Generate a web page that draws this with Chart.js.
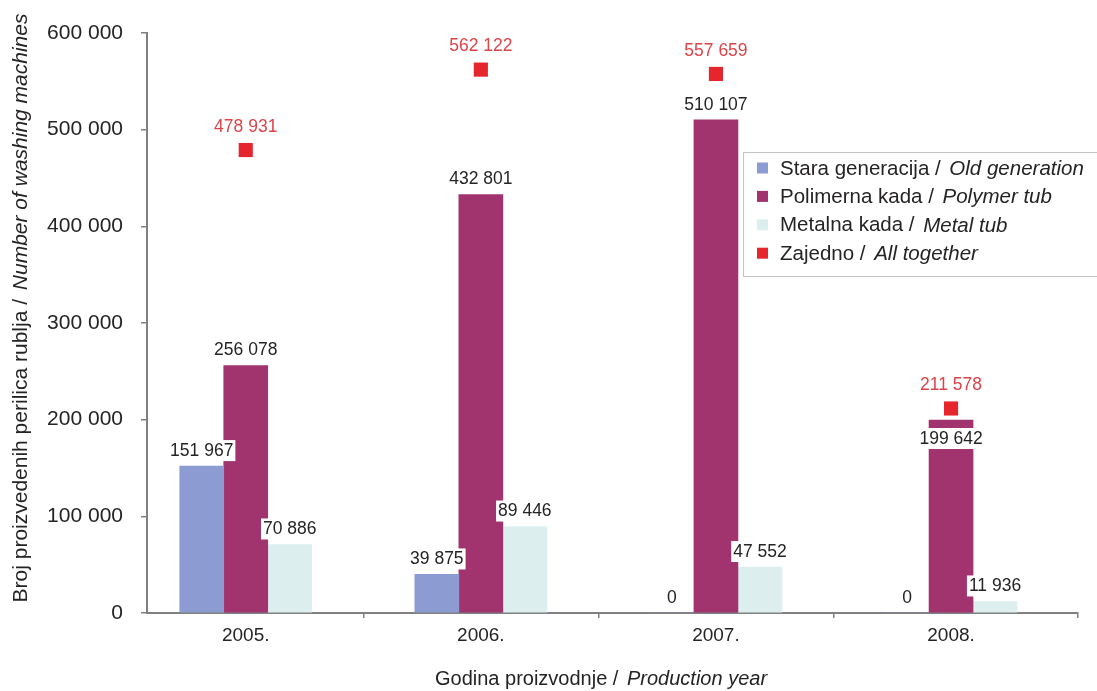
<!DOCTYPE html>
<html>
<head>
<meta charset="utf-8">
<script src="https://cdn.jsdelivr.net/npm/chart.js@4.4.0/dist/chart.umd.min.js"></script>
<style>
  html, body { margin: 0; padding: 0; background: #fff; }
  #wrap { width: 1097px; height: 691px; }
</style>
</head>
<body>
<div id="wrap"><canvas id="c" width="1097" height="691"></canvas></div>
<script>
// Production of washing machines by tub type, 2005-2008
const categories = ['2005.', '2006.', '2007.', '2008.'];
const oldGeneration = [151967, 39875, 0, 0];
const polymerTub = [256078, 432801, 510107, 199642];
const metalTub = [70886, 89446, 47552, 11936];
const allTogether = [478931, 562122, 557659, 211578];
const yTicks = [0, 100000, 200000, 300000, 400000, 500000, 600000];

const seriesNames = [
  ['Stara generacija', 'Old generation'],
  ['Polimerna kada', 'Polymer tub'],
  ['Metalna kada', 'Metal tub'],
  ['Zajedno', 'All together']
];
const xTitle = ['Godina proizvodnje', 'Production year'];
const yTitle = ['Broj proizvedenih perilica rublja', 'Number of washing machines'];

const FONT = '"Liberation Sans", Arial, sans-serif';
const TEXT = '#262324';
const AXIS = '#808080';
const COLORS = ['#8D9BD3', '#A1336E', '#DCEEEE', '#E5262D'];

const fmt = v => String(v).replace(/\B(?=(\d{3})+(?!\d))/g, ' ');
const toPoints = arr => arr.map((v, i) => ({ x: i, y: v }));

// draws "regular / italic" text pairs
function drawPair(ctx, parts, x, y, size, align) {
  const reg = size + 'px ' + FONT;
  const ital = 'italic ' + size + 'px ' + FONT;
  const a = parts[0] + ' / ';
  const gap = 3;
  ctx.font = reg;
  const wa = ctx.measureText(a).width + gap;
  ctx.font = ital;
  const wb = ctx.measureText(parts[1]).width;
  const sx = align === 'center' ? x - (wa + wb) / 2 : x;
  ctx.textAlign = 'left';
  ctx.font = reg;
  ctx.fillText(a, sx, y);
  ctx.font = ital;
  ctx.fillText(parts[1], sx + wa, y);
}

const valueLabels = {
  id: 'valueLabels',
  afterDatasetsDraw(chart) {
    const ctx = chart.ctx;
    const totalMeta = chart.getDatasetMeta(3);
    ctx.save();
    ctx.font = '17.5px ' + FONT;
    ctx.textAlign = 'center';
    ctx.textBaseline = 'middle';
    [0, 1, 2].forEach(di => {
      const meta = chart.getDatasetMeta(di);
      meta.data.forEach((bar, i) => {
        const text = fmt(chart.data.datasets[di].data[i].y);
        const marker = totalMeta.data[i];
        let cy = bar.y - 16;
        // no room between the bar top and the total marker: put the label inside the bar
        if (marker && bar.y - marker.y < 30) cy = bar.y + 18;
        const w = ctx.measureText(text).width + 4;
        ctx.fillStyle = '#fff';
        ctx.fillRect(bar.x - w / 2, cy - 10, w, 21);
        ctx.fillStyle = TEXT;
        ctx.fillText(text, bar.x, cy + 1);
      });
    });
    ctx.fillStyle = '#D9454B';
    totalMeta.data.forEach((pt, i) => {
      ctx.fillText(fmt(allTogether[i]), pt.x, pt.y - 23);
    });
    ctx.restore();
  }
};

const decorations = {
  id: 'decorations',
  afterDraw(chart) {
    const ctx = chart.ctx;
    const area = chart.chartArea;
    ctx.save();
    ctx.fillStyle = TEXT;
    ctx.textBaseline = 'middle';

    // axis titles
    drawPair(ctx, xTitle, 601, 679, 20, 'center');
    ctx.save();
    ctx.translate(21, 308);
    ctx.rotate(-Math.PI / 2);
    drawPair(ctx, yTitle, 0, 0, 21, 'center');
    ctx.restore();

    // legend box
    const lx = area.left + 596, ly = area.top + 119;
    ctx.strokeStyle = '#c4c4c4';
    ctx.lineWidth = 1;
    ctx.strokeRect(lx + 0.5, ly + 0.5, 400, 124);
    seriesNames.forEach((parts, i) => {
      const cy = ly + 16 + i * 28.4;
      ctx.fillStyle = COLORS[i];
      ctx.fillRect(lx + 14, cy - 5.5, 11, 11);
      ctx.fillStyle = TEXT;
      drawPair(ctx, parts, lx + 37, cy + 1, 20.5, 'left');
    });
    ctx.restore();
  }
};

const barDataset = (idx, values) => ({
  type: 'bar',
  label: seriesNames[idx].join(' / '),
  data: toPoints(values),
  backgroundColor: COLORS[idx],
  borderWidth: 0,
  barThickness: 44
});

new Chart(document.getElementById('c'), {
  type: 'bar',
  data: {
    datasets: [
      barDataset(0, oldGeneration),
      barDataset(1, polymerTub),
      barDataset(2, metalTub),
      {
        type: 'line',
        label: seriesNames[3].join(' / '),
        data: toPoints(allTogether),
        showLine: false,
        pointStyle: 'rect',
        pointRadius: 10,
        pointHoverRadius: 10,
        pointBorderWidth: 0,
        backgroundColor: COLORS[3],
        borderColor: COLORS[3]
      }
    ]
  },
  options: {
    responsive: false,
    devicePixelRatio: 1,
    animation: false,
    layout: { padding: { left: 0, right: 19, top: 33, bottom: 0 } },
    plugins: { legend: { display: false }, tooltip: { enabled: false } },
    scales: {
      x: {
        type: 'linear',
        min: -0.42,
        max: 3.54,
        offset: false,
        grid: {
          offset: false,
          drawOnChartArea: false,
          drawTicks: true,
          tickLength: 5,
          lineWidth: 1.5,
          tickColor: c => (c.tick && Number.isInteger(c.tick.value)) ? 'rgba(0,0,0,0)' : AXIS
        },
        border: { color: AXIS, width: 2 },
        ticks: {
          autoSkip: false,
          maxRotation: 0,
          padding: 6,
          color: TEXT,
          font: { family: FONT, size: 19 },
          callback: v => Number.isInteger(v) ? categories[v] : ''
        },
        afterBuildTicks: scale => {
          const t = [];
          categories.forEach((c, i) => {
            t.push({ value: i });
            if (i < categories.length - 1) t.push({ value: i + 0.5 });
          });
          t.push({ value: scale.max });
          scale.ticks = t;
        },
        afterFit: scale => { scale.height = 78; }
      },
      y: {
        min: 0,
        max: 600000,
        grid: { drawOnChartArea: false, drawTicks: true, tickLength: 6, lineWidth: 1.5, tickColor: AXIS },
        border: { color: AXIS, width: 2 },
        ticks: {
          padding: 18,
          color: TEXT,
          font: { family: FONT, size: 21 },
          callback: v => fmt(v)
        },
        afterBuildTicks: scale => { scale.ticks = yTicks.map(v => ({ value: v })); },
        afterFit: scale => { scale.width = 147; }
      }
    }
  },
  plugins: [valueLabels, decorations]
});
</script>
</body>
</html>
